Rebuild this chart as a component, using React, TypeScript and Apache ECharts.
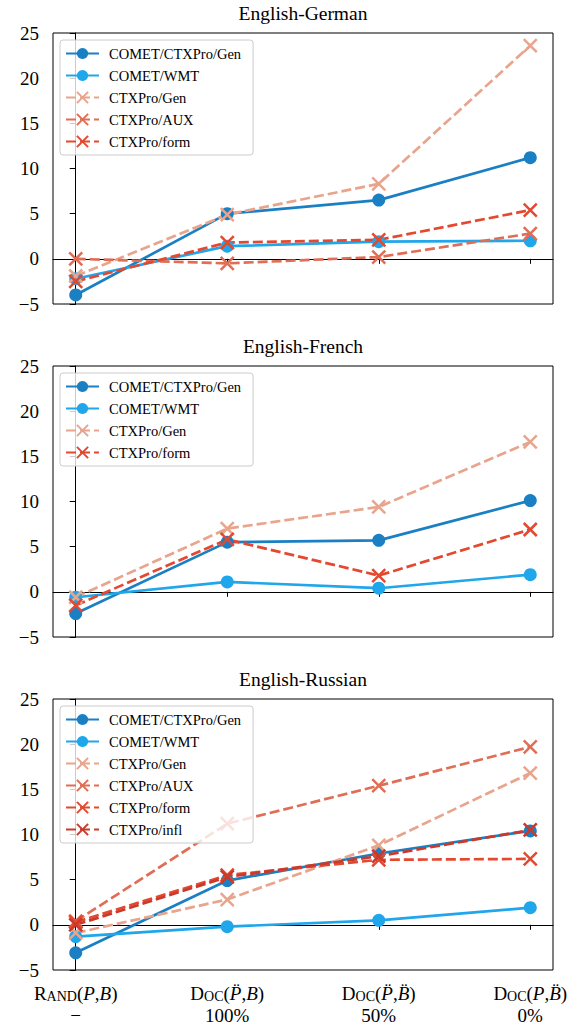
import React, { useEffect, useRef } from "react";
import * as echarts from "echarts";

const categories = ["Rand(P,B)", "Doc(P\u0308,B)", "Doc(P\u0308,B\u0308)", "Doc(P,B\u0308)"];
const ratios = ["\u2212", "100%", "50%", "0%"];
const yTicks = [-5, 0, 5, 10, 15, 20, 25];

// English-German
const deCometGen = [-4.0, 5.0, 6.5, 11.2];
const deCometWmt = [-2.2, 1.4, 1.9, 2.0];
const deGen = [-1.9, 4.9, 8.3, 23.6];
const deAux = [0.0, -0.5, 0.2, 2.8];
const deForm = [-2.5, 1.8, 2.1, 5.4];

// English-French
const frCometGen = [-2.4, 5.5, 5.7, 10.1];
const frCometWmt = [-0.6, 1.1, 0.4, 1.9];
const frGen = [-0.6, 7.0, 9.4, 16.6];
const frForm = [-1.5, 5.8, 1.8, 6.9];

// English-Russian
const ruCometGen = [-3.1, 4.9, 7.9, 10.4];
const ruCometWmt = [-1.3, -0.2, 0.5, 1.9];
const ruGen = [-0.9, 2.8, 8.8, 16.8];
const ruAux = [0.4, 11.2, 15.4, 19.7];
const ruForm = [0.3, 5.5, 7.2, 7.3];
const ruInfl = [0.0, 5.3, 7.6, 10.5];

const panels = [
  {
    title: "English-German",
    series: [
      { name: "COMET/CTXPro/Gen", data: deCometGen },
      { name: "COMET/WMT", data: deCometWmt },
      { name: "CTXPro/Gen", data: deGen },
      { name: "CTXPro/AUX", data: deAux },
      { name: "CTXPro/form", data: deForm },
    ],
  },
  {
    title: "English-French",
    series: [
      { name: "COMET/CTXPro/Gen", data: frCometGen },
      { name: "COMET/WMT", data: frCometWmt },
      { name: "CTXPro/Gen", data: frGen },
      { name: "CTXPro/form", data: frForm },
    ],
  },
  {
    title: "English-Russian",
    series: [
      { name: "COMET/CTXPro/Gen", data: ruCometGen },
      { name: "COMET/WMT", data: ruCometWmt },
      { name: "CTXPro/Gen", data: ruGen },
      { name: "CTXPro/AUX", data: ruAux },
      { name: "CTXPro/form", data: ruForm },
      { name: "CTXPro/infl", data: ruInfl },
    ],
  },
];

const styles: Record<string, { color: string; circle: boolean }> = {
  "COMET/CTXPro/Gen": { color: "#1b7fc3", circle: true },
  "COMET/WMT": { color: "#20a6ea", circle: true },
  "CTXPro/Gen": { color: "#e8a48c", circle: false },
  "CTXPro/AUX": { color: "#e06d55", circle: false },
  "CTXPro/form": { color: "#e4482f", circle: false },
  "CTXPro/infl": { color: "#c93a2c", circle: false },
};

const FONT = "Liberation Serif";
const CROSS = "path://M0,0L10,10M10,0L0,10";

const gridTops = [33, 366, 699];
const gridH = 271;
const gridLeft = 53;
const gridW = 500;

function xLabel(v: number): string {
  const i = Math.round(v);
  const r = ratios[i];
  if (i === 0) {
    return "{b|R}{s|AND}{b|(}{i|P}{b|,}{i|B}{b|)}\n{b|" + r + "}";
  }
  const args = categories[i].slice(4, -1).split(",");
  return "{b|D}{s|OC}{b|(}{i|" + args[0] + "}{b|,}{i|" + args[1] + "}{b|)}\n{b|" + r + "}";
}

export default function App() {
  const ref = useRef<HTMLDivElement>(null);
  useEffect(() => {
    if (!ref.current) return;
    const chart = echarts.init(ref.current, undefined, { renderer: "svg" });
    const grid: any[] = [];
    const xAxis: any[] = [];
    const yAxis: any[] = [];
    const title: any[] = [];
    const legend: any[] = [];
    const series: any[] = [];
    panels.forEach((p, k) => {
      grid.push({
        left: gridLeft,
        top: gridTops[k],
        width: gridW,
        height: gridH,
        show: true,
        borderColor: "#000",
        borderWidth: 1,
        containLabel: false,
      });
      xAxis.push({
        type: "value",
        gridIndex: k,
        min: -0.15,
        max: 3.15,
        splitLine: { show: false },
        axisLine: { show: true, lineStyle: { color: "#000", width: 1 } },
        axisTick: { show: true, length: 5, lineStyle: { color: "#000" }, customValues: [0, 1, 2, 3] },
        axisLabel: {
          show: k === 2,
          customValues: [0, 1, 2, 3],
          formatter: xLabel,
          margin: 11,
          color: "#000",
          fontFamily: FONT,
          rich: {
            b: { fontSize: 19, fontFamily: FONT, color: "#000", lineHeight: 22, verticalAlign: "bottom" },
            s: { fontSize: 14, fontFamily: FONT, color: "#000", lineHeight: 18, verticalAlign: "bottom" },
            i: { fontSize: 19, fontFamily: FONT, fontStyle: "italic", color: "#000", lineHeight: 22, verticalAlign: "bottom" },
          },
        },
      });
      yAxis.push({
        type: "value",
        gridIndex: k,
        min: yTicks[0],
        max: yTicks[yTicks.length - 1],
        interval: 5,
        splitLine: { show: false },
        axisLine: { show: true, lineStyle: { color: "#000", width: 1 } },
        axisTick: { show: true, length: 6, lineStyle: { color: "#000" } },
        axisLabel: {
          color: "#000",
          fontSize: 19,
          fontFamily: FONT,
          margin: 14,
          formatter: (v: number) => (v < 0 ? "\u2212" + Math.abs(v) : String(v)),
        },
      });
      title.push({
        text: p.title,
        left: gridLeft + gridW / 2,
        textAlign: "center",
        top: gridTops[k] - 30,
        padding: 0,
        textStyle: { fontFamily: FONT, fontSize: 19.5, fontWeight: "normal", color: "#000" },
      });
      legend.push({
        orient: "vertical",
        left: 60,
        top: gridTops[k] + 7,
        data: p.series.map((s) => s.name),
        itemWidth: 33,
        itemHeight: 14,
        itemGap: 7,
        padding: [6, 12, 6, 5],
        borderColor: "#cccccc",
        borderWidth: 1,
        borderRadius: 3,
        backgroundColor: "rgba(255,255,255,0.8)",
        textStyle: { fontFamily: FONT, fontSize: 14.5, color: "#000", padding: [0, 0, 0, 5] },
        selectedMode: false,
      });
      p.series.forEach((s) => {
        const st = styles[s.name];
        series.push({
          type: "line",
          name: s.name,
          xAxisIndex: k,
          yAxisIndex: k,
          data: s.data.map((v, i) => [i, v]),
          symbol: st.circle ? "circle" : CROSS,
          symbolSize: 13,
          symbolKeepAspect: true,
          lineStyle: st.circle
            ? { color: st.color, width: 2.7 }
            : { color: st.color, width: 2.7, type: [10, 4] },
          itemStyle: st.circle
            ? { color: st.color }
            : { color: st.color, borderColor: st.color, borderWidth: 2.5 },
          emphasis: { disabled: true },
        });
      });
    });
    chart.setOption({
      animation: false,
      backgroundColor: "#fff",
      title,
      grid,
      xAxis,
      yAxis,
      legend,
      series,
    });
    return () => chart.dispose();
  }, []);
  return (
    <div
      ref={ref}
      style={{ position: "fixed", left: 0, top: 0, width: 583, height: 1027 }}
    />
  );
}
